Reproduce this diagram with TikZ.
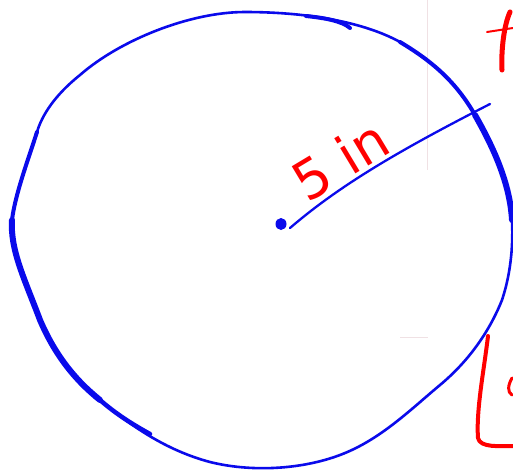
\documentclass[tikz,border=0pt]{standalone}
\usepackage{fontspec}
\setmainfont{DejaVu Sans}
\definecolor{penblue}{RGB}{10,10,235}
\definecolor{penred}{RGB}{255,0,0}
\definecolor{faintc}{RGB}{240,225,228}
\begin{document}
\begin{tikzpicture}[x=1pt,y=-1pt,
  bluepen/.style={draw=penblue, line cap=round, line join=round},
  redpen/.style={draw=penred, line cap=round, line join=round},
  faint/.style={draw=faintc, line width=0.8pt}]
\useasboundingbox (0,0) rectangle (513,472);
\fill[white] (0,0) rectangle (513,472);
% faint guide lines
\draw[faint] (427,0) -- (427,170);
\draw[faint] (400,337) -- (428,337);
% circle
\draw[bluepen, line width=2.6pt] (245,12) .. controls (190,12) and (120,40) .. (80,75)
  .. controls (55,95) and (42,115) .. (37,132)
  .. controls (28,160) and (15,195) .. (12,220)
  .. controls (10,250) and (25,280) .. (40,320)
  .. controls (55,355) and (75,380) .. (100,400)
  .. controls (130,425) and (165,450) .. (210,462)
  .. controls (250,472) and (300,470) .. (340,455)
  .. controls (380,440) and (410,410) .. (440,385)
  .. controls (470,360) and (490,330) .. (502,300)
  .. controls (512,270) and (513,240) .. (512,220)
  .. controls (510,185) and (495,150) .. (475,115)
  .. controls (455,80) and (430,60) .. (400,42)
  .. controls (360,20) and (300,12) .. (245,12);
% thicker portions
\draw[bluepen, line width=4pt] (37,132) .. controls (28,160) and (15,195) .. (12,220);
\draw[bluepen, line width=6pt] (12,220)
  .. controls (10,250) and (25,280) .. (40,320)
  .. controls (55,355) and (75,380) .. (100,400);
\draw[bluepen, line width=4.5pt] (100,400) .. controls (115,413) and (130,423) .. (150,434);
\draw[bluepen, line width=4pt] (400,42) .. controls (430,60) and (455,80) .. (475,115);
\draw[bluepen, line width=6pt] (475,115) .. controls (495,150) and (510,185) .. (512,220);
% top hook
\draw[bluepen, line width=4pt] (306,16) .. controls (325,18) and (342,21) .. (350,28);
% radius
\coordinate (ctr) at (281,224);
\coordinate (rend) at (490,104);
\fill[penblue] (ctr) ellipse (5.5pt and 6pt);
\draw[bluepen, line width=2.3pt] (290,228) .. controls (340,185) and (400,150) .. (rend);
% label
\node[text=penred, rotate=31, font=\fontsize{54}{54}\selectfont, inner sep=0pt] (lbl) at (340,160) {5 in};
% red partial marks at right edge
\draw[redpen, line width=2pt] (487,32) -- (513,28);
\draw[redpen, line width=5pt] (510,12) .. controls (504,25) and (501,50) .. (502,70);
\draw[redpen, line width=4pt] (488,336) .. controls (484,370) and (476,410) .. (478,438)
  .. controls (480,448) and (500,446) .. (513,446);
\draw[redpen, line width=3pt] (512,378) .. controls (508,385) and (507,392) .. (512,395);
\end{tikzpicture}
\end{document}
